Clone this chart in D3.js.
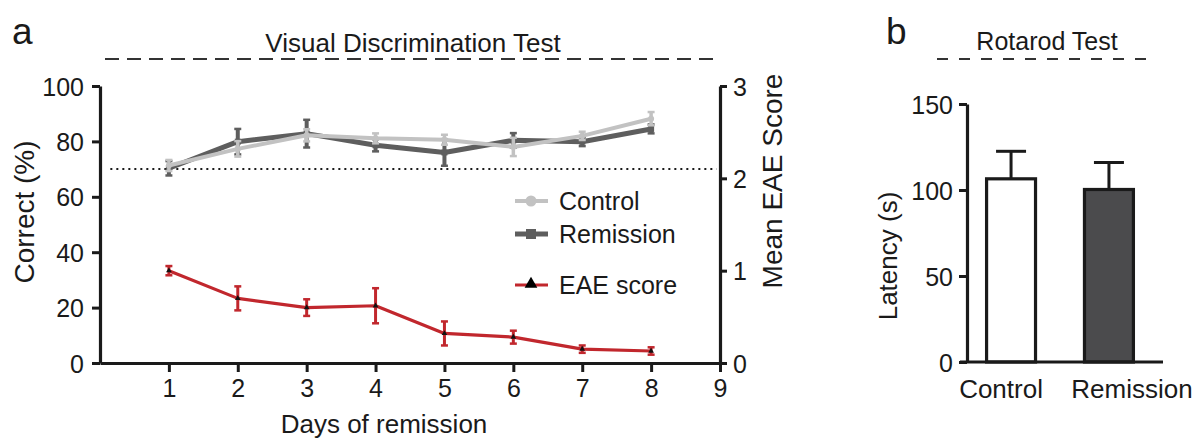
<!DOCTYPE html>
<html>
<head>
<meta charset="utf-8">
<script src="https://cdn.jsdelivr.net/npm/d3@7"></script>
<style>
  html, body { margin: 0; padding: 0; background: #fff; }
  svg { display: block; font-family: "Liberation Sans", Arial, sans-serif; }
  text { fill: #1a1a1a; }
</style>
</head>
<body>
<svg id="fig" width="1193" height="441"></svg>
<script>
// ---- Panel a: visual discrimination over days of remission ----
const days = [1, 2, 3, 4, 5, 6, 7, 8];
const controlCorrect = [71.3, 77.3, 82.2, 81.1, 80.6, 78.0, 82.0, 88.2];
const controlErr     = [2.0, 2.8, 2.2, 1.8, 1.8, 3.3, 1.5, 2.4];
const remissionCorrect = [70.3, 79.9, 82.8, 78.6, 76.0, 80.4, 79.9, 84.5];
const remissionErr     = [2.6, 4.6, 5.0, 2.2, 4.8, 2.6, 1.6, 1.6];
const eaeScore = [1.00, 0.70, 0.60, 0.62, 0.32, 0.28, 0.15, 0.13];
const eaeErr   = [0.05, 0.13, 0.09, 0.19, 0.13, 0.07, 0.04, 0.04];
const xTicks = [1, 2, 3, 4, 5, 6, 7, 8, 9];
const leftTicks = [0, 20, 40, 60, 80, 100];
const rightTicks = [0, 1, 2, 3];
const criterion = 70;

// ---- Panel b: rotarod latency ----
const groups = ["Control", "Remission"];
const latency = [106.5, 100.3];
const latencyErr = [16.0, 15.7];
const latencyTicks = [0, 50, 100, 150];

const svg = d3.select("#fig");
const ink = "#1a1a1a";
const cCtrl = "#c2c2c2", cRem = "#5e5e5e", cEae = "#c1272d";
const tickFont = 25;

// scales for panel a
const x = d3.scaleLinear().domain([0, 9]).range([100, 720]);
const yL = d3.scaleLinear().domain([0, 100]).range([363, 86]);
const yR = d3.scaleLinear().domain([0, 3]).range([363, 86]);

const gA = svg.append("g");

// panel letter and title
gA.append("text").attr("x", 12).attr("y", 44).attr("font-size", 37).text("a");
gA.append("text").attr("x", 413).attr("y", 52).attr("text-anchor", "middle")
  .attr("font-size", 26).text("Visual Discrimination Test");
gA.append("line").attr("x1", 105).attr("x2", 720).attr("y1", 59).attr("y2", 59)
  .attr("stroke", "#333").attr("stroke-width", 2.2).attr("stroke-dasharray", "14,8");

// criterion line
gA.append("line").attr("x1", x(0.15)).attr("x2", x(8.95))
  .attr("y1", yL(criterion)).attr("y2", yL(criterion))
  .attr("stroke", ink).attr("stroke-width", 2).attr("stroke-dasharray", "2,4");

function styleAxis(g) {
  g.selectAll(".domain").attr("stroke", ink).attr("stroke-width", 3.2);
  g.selectAll(".tick line").attr("stroke", ink).attr("stroke-width", 3);
  g.selectAll(".tick text").attr("font-size", tickFont).attr("fill", ink)
    .attr("font-family", "Liberation Sans, Arial, sans-serif");
}

const axL = gA.append("g").attr("transform", "translate(100,0)")
  .call(d3.axisLeft(yL).tickValues(leftTicks).tickSize(8).tickPadding(8).tickSizeOuter(0));
styleAxis(axL);
axL.selectAll(".tick text").attr("dy", "0.36em");

const axR = gA.append("g").attr("transform", "translate(720,0)")
  .call(d3.axisRight(yR).tickValues(rightTicks).tickFormat(d3.format("d"))
    .tickSize(7).tickPadding(6).tickSizeOuter(0));
styleAxis(axR);
axR.selectAll(".tick text").attr("dy", "0.36em");

const axB = gA.append("g").attr("transform", "translate(0,363)")
  .call(d3.axisBottom(x).tickValues(xTicks).tickSize(9).tickPadding(7).tickSizeOuter(0));
styleAxis(axB);

gA.append("text").attr("transform", "translate(34,212) rotate(-90)")
  .attr("text-anchor", "middle").attr("font-size", 28).text("Correct (%)");
gA.append("text").attr("transform", "translate(782,181) rotate(-90)")
  .attr("text-anchor", "middle").attr("font-size", 28).text("Mean EAE Score");
gA.append("text").attr("x", 384).attr("y", 433).attr("text-anchor", "middle")
  .attr("font-size", 26).text("Days of remission");

// series drawing helper
function drawSeries(vals, errs, y, color, lw, ew, cap, marker) {
  const pts = days.map((d, i) => ({ d, v: vals[i], e: errs[i] }));
  const g = gA.append("g");
  g.selectAll("line.eb").data(pts).join("line").attr("class", "eb")
    .attr("x1", p => x(p.d)).attr("x2", p => x(p.d))
    .attr("y1", p => y(p.v - p.e)).attr("y2", p => y(p.v + p.e))
    .attr("stroke", color).attr("stroke-width", ew);
  ["lo", "hi"].forEach(k => {
    g.selectAll("line.cap" + k).data(pts).join("line").attr("class", "cap" + k)
      .attr("x1", p => x(p.d) - cap / 2).attr("x2", p => x(p.d) + cap / 2)
      .attr("y1", p => y(k === "lo" ? p.v - p.e : p.v + p.e))
      .attr("y2", p => y(k === "lo" ? p.v - p.e : p.v + p.e))
      .attr("stroke", color).attr("stroke-width", 2.5);
  });
  g.append("path").datum(pts)
    .attr("d", d3.line().x(p => x(p.d)).y(p => y(p.v)))
    .attr("fill", "none").attr("stroke", color).attr("stroke-width", lw)
    .attr("stroke-linejoin", "round");
  marker(g, pts);
}

drawSeries(remissionCorrect, remissionErr, yL, cRem, 5, 4, 7, (g, pts) => {
  g.selectAll("rect.m").data(pts).join("rect").attr("class", "m")
    .attr("x", p => x(p.d) - 3).attr("y", p => yL(p.v) - 3)
    .attr("width", 6).attr("height", 6).attr("fill", cRem);
});
drawSeries(controlCorrect, controlErr, yL, cCtrl, 4, 3.5, 7, (g, pts) => {
  g.selectAll("circle.m").data(pts).join("circle").attr("class", "m")
    .attr("cx", p => x(p.d)).attr("cy", p => yL(p.v)).attr("r", 3).attr("fill", cCtrl);
});
drawSeries(eaeScore, eaeErr, yR, cEae, 3.2, 3, 7, (g, pts) => {
  const tri = d3.symbol().type(d3.symbolTriangle).size(14);
  g.selectAll("path.m").data(pts).join("path").attr("class", "m")
    .attr("transform", p => `translate(${x(p.d)},${yR(p.v)})`)
    .attr("d", tri).attr("fill", "#111");
});

// legend
const legend = [
  { label: "Control", color: cCtrl, y: 201, lw: 4, mk: "circle" },
  { label: "Remission", color: cRem, y: 234, lw: 5, mk: "square" },
  { label: "EAE score", color: cEae, y: 285, lw: 3, mk: "triangle" }
];
const lg = gA.append("g");
legend.forEach(L => {
  lg.append("line").attr("x1", 515).attr("x2", 548).attr("y1", L.y).attr("y2", L.y)
    .attr("stroke", L.color).attr("stroke-width", L.lw);
  if (L.mk === "circle") {
    lg.append("circle").attr("cx", 531).attr("cy", L.y).attr("r", 5.5).attr("fill", L.color);
  } else if (L.mk === "square") {
    lg.append("rect").attr("x", 526).attr("y", L.y - 5).attr("width", 10).attr("height", 10).attr("fill", L.color);
  } else {
    lg.append("path").attr("transform", `translate(531,${L.y - 1})`)
      .attr("d", d3.symbol().type(d3.symbolTriangle).size(70)).attr("fill", "#000");
  }
  lg.append("text").attr("x", 559).attr("y", L.y + 9).attr("font-size", 25).text(L.label);
});

// ---- Panel b ----
const gB = svg.append("g");
const yB = d3.scaleLinear().domain([0, 150]).range([362, 104]);
const xB = d3.scaleBand().domain(groups).range([967, 1153]).paddingInner(0.5).paddingOuter(0.2);

gB.append("text").attr("x", 886).attr("y", 44).attr("font-size", 37).text("b");
gB.append("text").attr("x", 1047).attr("y", 50).attr("text-anchor", "middle")
  .attr("font-size", 25).text("Rotarod Test");
gB.append("line").attr("x1", 937).attr("x2", 1156).attr("y1", 59).attr("y2", 59)
  .attr("stroke", "#333").attr("stroke-width", 2.2).attr("stroke-dasharray", "11,11");

// bars with error bars
const barData = groups.map((g, i) => ({ g, v: latency[i], e: latencyErr[i] }));
gB.selectAll("line.err").data(barData).join("line").attr("class", "err")
  .attr("x1", d => xB(d.g) + xB.bandwidth() / 2).attr("x2", d => xB(d.g) + xB.bandwidth() / 2)
  .attr("y1", d => yB(d.v)).attr("y2", d => yB(d.v + d.e))
  .attr("stroke", ink).attr("stroke-width", 3);
gB.selectAll("line.ecap").data(barData).join("line").attr("class", "ecap")
  .attr("x1", d => xB(d.g) + xB.bandwidth() / 2 - 15).attr("x2", d => xB(d.g) + xB.bandwidth() / 2 + 15)
  .attr("y1", d => yB(d.v + d.e)).attr("y2", d => yB(d.v + d.e))
  .attr("stroke", ink).attr("stroke-width", 3);
gB.selectAll("rect.bar").data(barData).join("rect").attr("class", "bar")
  .attr("x", d => xB(d.g)).attr("width", xB.bandwidth())
  .attr("y", d => yB(d.v)).attr("height", d => yB(0) - yB(d.v))
  .attr("fill", (d, i) => i === 0 ? "#ffffff" : "#4b4b4d")
  .attr("stroke", ink).attr("stroke-width", 3.2);

const axBL = gB.append("g").attr("transform", "translate(967,0)")
  .call(d3.axisLeft(yB).tickValues(latencyTicks).tickSize(8).tickPadding(6).tickSizeOuter(0));
styleAxis(axBL);
axBL.selectAll(".tick text").attr("dy", "0.36em");

gB.append("line").attr("x1", 960).attr("x2", 1163).attr("y1", 362).attr("y2", 362)
  .attr("stroke", ink).attr("stroke-width", 3.2);

const labelShift = [-10, 23];
gB.selectAll("text.cat").data(barData).join("text").attr("class", "cat")
  .attr("x", (d, i) => xB(d.g) + xB.bandwidth() / 2 + labelShift[i]).attr("y", 398)
  .attr("text-anchor", "middle").attr("font-size", 26).text(d => d.g);

gB.append("text").attr("transform", "translate(897,256) rotate(-90)")
  .attr("text-anchor", "middle").attr("font-size", 26).text("Latency (s)");
</script>
</body>
</html>
